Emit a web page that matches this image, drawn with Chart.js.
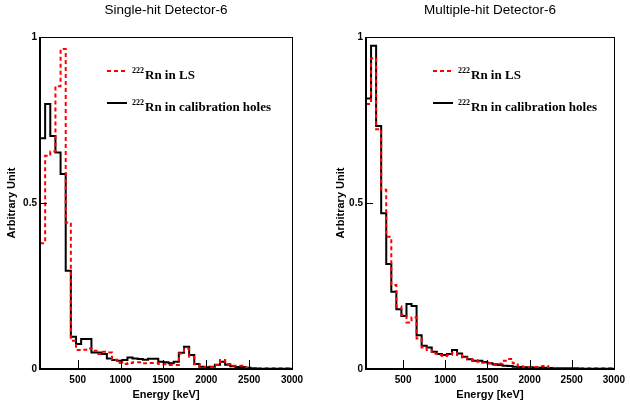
<!DOCTYPE html>
<html><head><meta charset="utf-8">
<script src="https://cdn.jsdelivr.net/npm/chart.js@4/dist/chart.umd.min.js"></script>
<style>
html,body{margin:0;padding:0;background:#fff;}
#wrap{position:relative;width:630px;height:409px;background:#fff;}
canvas{position:absolute;top:0;}
</style></head><body>
<div id="wrap">
<canvas id="c1" width="315" height="409" style="left:0;width:315px;height:409px"></canvas>
<canvas id="c2" width="315" height="409" style="left:315px;width:315px;height:409px"></canvas>
</div>
<script>
// ---- data (bin low edges in keV, bin width 60 keV, upper edge 3000) ----
const binLow = [60,120,180,240,300,360,420,480,540,600,660,720,780,840,900,960,1020,1080,1140,1200,
  1260,1320,1380,1440,1500,1560,1620,1680,1740,1800,1860,1920,1980,2040,2100,2160,2220,2280,2340,2400,
  2460,2520,2580,2640,2700,2760,2820,2880,2940];
const binUpperEdge = 3000;

const singleLS = [0.379,0.642,0.655,0.852,0.964,0.441,0.085,0.057,0.058,0.062,0.055,0.045,0.052,0.050,0.028,0.018,0.015,0.018,0.020,0.020,
  0.017,0.018,0.018,0.015,0.014,0.012,0.012,0.047,0.062,0.037,0.014,0.006,0.005,0.006,0.012,0.027,0.015,0.010,0.010,0.010,
  0.004,0.002,0.002,0.002,0.002,0.002,0.002,0.002,0.002];
const singleCalib = [0.695,0.798,0.702,0.652,0.587,0.296,0.097,0.075,0.090,0.090,0.050,0.050,0.045,0.032,0.027,0.025,0.027,0.035,0.032,0.030,
  0.028,0.031,0.031,0.022,0.020,0.017,0.022,0.049,0.067,0.042,0.015,0.007,0.005,0.007,0.013,0.022,0.013,0.008,0.006,0.006,
  0.004,0.002,0.001,0.001,0.001,0.001,0.001,0.001,0.001];
const multiLS = [0.798,0.936,0.722,0.540,0.398,0.253,0.188,0.163,0.140,0.156,0.092,0.065,0.057,0.047,0.042,0.039,0.042,0.049,0.042,0.035,
  0.029,0.027,0.022,0.019,0.017,0.012,0.016,0.025,0.030,0.017,0.008,0.005,0.005,0.006,0.008,0.009,0.004,0.003,0.002,0.002,
  0.002,0.002,0.002,0.002,0.002,0.002,0.002,0.002,0.002];
const multiCalib = [0.815,0.974,0.732,0.469,0.316,0.233,0.180,0.160,0.196,0.190,0.102,0.070,0.065,0.052,0.045,0.042,0.045,0.057,0.047,0.037,
  0.029,0.025,0.025,0.021,0.017,0.014,0.012,0.010,0.009,0.007,0.006,0.005,0.005,0.004,0.004,0.004,0.003,0.002,0.002,0.002,
  0.002,0.002,0.001,0.001,0.001,0.001,0.001,0.001,0.001];

const xTickValues = [500,1000,1500,2000,2500,3000];
const yTickValues = [0,0.5,1];
const chartTitles = ['Single-hit Detector-6','Multiple-hit Detector-6'];
const seriesLabels = ['Rn in LS','Rn in calibration holes'];
const labelSup = '222';
const xTitle = 'Energy [keV]';
const yTitle = 'Arbitrary Unit';

function toSteps(vals){
  const pts = binLow.map((x,i)=>({x:x, y:vals[i]}));
  pts.push({x:binUpperEdge, y:vals[vals.length-1]});
  return pts;
}

const framePlugin = {
  id:'rootFrame',
  afterDatasetsDraw(chart){
    const {ctx, chartArea:a, scales:{x,y}} = chart;
    ctx.save();
    ctx.strokeStyle='#000';
    ctx.lineWidth=1;
    ctx.beginPath();
    x.ticks.forEach(t=>{const px=Math.round(x.getPixelForValue(t.value))+0.5; ctx.moveTo(px,a.bottom); ctx.lineTo(px,a.bottom-9);});
    y.ticks.forEach(t=>{const py=Math.round(y.getPixelForValue(t.value))+0.5; ctx.moveTo(a.left,py); ctx.lineTo(a.left+7,py);});
    ctx.stroke();
    ctx.strokeRect(Math.round(a.left)+0.5, Math.round(a.top)+0.5, Math.round(a.right-a.left), Math.round(a.bottom-a.top));
    ctx.lineWidth=2;
    ctx.beginPath();
    ctx.moveTo(Math.round(a.left), a.top); ctx.lineTo(Math.round(a.left), Math.round(a.bottom));
    ctx.lineTo(a.right, Math.round(a.bottom));
    ctx.stroke();
    ctx.restore();
  }
};

const legendPlugin = {
  id:'rnLegend',
  afterDraw(chart, args, opts){
    const {ctx, chartArea:a} = chart;
    chart.data.datasets.forEach((ds,i)=>{
      const y = a.top + opts.top + i*opts.gap;
      const x0 = a.left + opts.left;
      ctx.save();
      ctx.strokeStyle = ds.borderColor; ctx.lineWidth = 2;
      ctx.setLineDash(ds.borderDash || []);
      ctx.beginPath(); ctx.moveTo(x0,y); ctx.lineTo(x0+20,y); ctx.stroke();
      ctx.setLineDash([]);
      ctx.fillStyle='#000'; ctx.textBaseline='alphabetic'; ctx.textAlign='left';
      let tx = x0 + 25;
      ctx.font='bold 8px "Liberation Serif"';
      ctx.fillText(labelSup, tx, y+2);
      tx += ctx.measureText(labelSup).width + 1;
      ctx.font='bold 13px "Liberation Serif"';
      ctx.fillText(ds.label, tx, y+8);
      ctx.restore();
    });
  }
};

function makeChart(id, title, ls, calib, yWidth, padRight, yTitlePad){
  return new Chart(document.getElementById(id), {
    type:'line',
    data:{datasets:[
      {label:seriesLabels[0], data:toSteps(ls), borderColor:'#ff0000', borderDash:[4,3], borderWidth:2, stepped:true, pointRadius:0, fill:false, order:0},
      {label:seriesLabels[1], data:toSteps(calib), borderColor:'#000000', borderWidth:2, stepped:true, pointRadius:0, fill:false, order:1}
    ]},
    options:{
      responsive:false, animation:false, events:[],
      layout:{padding:{left:0,right:padRight,top:0,bottom:0}},
      plugins:{
        legend:{display:false}, tooltip:{enabled:false},
        title:{display:true, text:title, fullSize:false, color:'#000',
          font:{family:'"Liberation Sans", Arial, sans-serif', size:13.5, weight:'normal'},
          padding:{top:2,bottom:18.8}},
        rnLegend:{left:67, top:34, gap:32}
      },
      scales:{
        x:{type:'linear', min:binLow[0], max:binUpperEdge,
          afterBuildTicks:s=>{s.ticks = xTickValues.map(v=>({value:v}));},
          afterFit:s=>{s.height=40;},
          grid:{display:false, drawTicks:false}, border:{display:false},
          ticks:{callback:v=>String(v), color:'#000', padding:5, maxRotation:0, autoSkip:false,
            font:{family:'"Liberation Sans", Arial, sans-serif', size:10, weight:'bold'}},
          title:{display:true, text:xTitle, color:'#000', padding:{top:0,bottom:7},
            font:{family:'"Liberation Sans", Arial, sans-serif', size:11, weight:'bold'}}
        },
        y:{type:'linear', min:0, max:1,
          afterBuildTicks:s=>{s.ticks = yTickValues.map(v=>({value:v}));},
          afterFit:s=>{s.width=yWidth;},
          grid:{display:false, drawTicks:false}, border:{display:false},
          ticks:{callback:v=>String(v), color:'#000', padding:3,
            font:{family:'"Liberation Sans", Arial, sans-serif', size:10, weight:'bold'}},
          title:{display:true, text:yTitle, color:'#000', padding:{top:yTitlePad,bottom:0},
            font:{family:'"Liberation Sans", Arial, sans-serif', size:11, weight:'bold'}}
        }
      }
    },
    plugins:[framePlugin, legendPlugin]
  });
}

makeChart('c1', chartTitles[0], singleLS, singleCalib, 40, 23, 5);
makeChart('c2', chartTitles[1], multiLS, multiCalib, 51, 13, 19);
</script>
</body></html>
